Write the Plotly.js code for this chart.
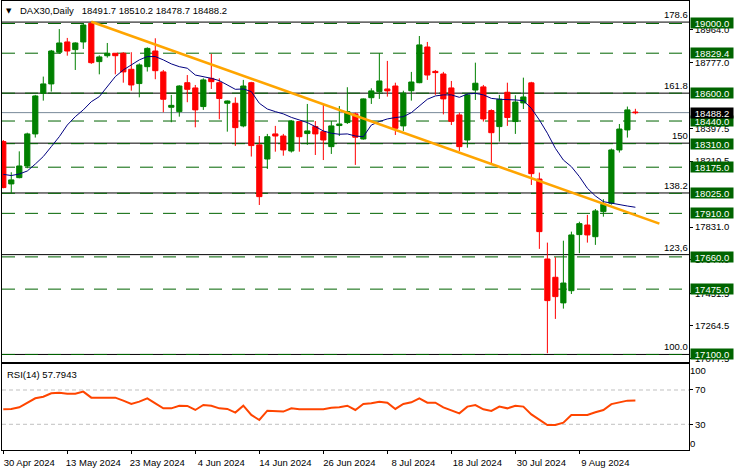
<!DOCTYPE html>
<html>
<head>
<meta charset="utf-8">
<script src="https://cdn.plot.ly/plotly-3.0.1.min.js"></script>
<style>html,body{margin:0;padding:0;background:#fff;}#chart{width:735px;height:470px;}</style>
</head>
<body>
<div id="chart"></div>
<script>
const dates = ['2024-04-30','2024-05-02','2024-05-03','2024-05-06','2024-05-07','2024-05-08','2024-05-09','2024-05-10',
'2024-05-13','2024-05-14','2024-05-15','2024-05-16','2024-05-17','2024-05-20','2024-05-21','2024-05-22',
'2024-05-23','2024-05-24','2024-05-27','2024-05-28','2024-05-29','2024-05-30','2024-05-31','2024-06-03',
'2024-06-04','2024-06-05','2024-06-06','2024-06-07','2024-06-10','2024-06-11','2024-06-12','2024-06-13',
'2024-06-14','2024-06-17','2024-06-18','2024-06-19','2024-06-20','2024-06-21','2024-06-24','2024-06-25',
'2024-06-26','2024-06-27','2024-06-28','2024-07-01','2024-07-02','2024-07-03','2024-07-04','2024-07-05',
'2024-07-08','2024-07-09','2024-07-10','2024-07-11','2024-07-12','2024-07-15','2024-07-16','2024-07-17',
'2024-07-18','2024-07-19','2024-07-22','2024-07-23','2024-07-24','2024-07-25','2024-07-26','2024-07-29',
'2024-07-30','2024-07-31','2024-08-01','2024-08-02','2024-08-05','2024-08-06','2024-08-07','2024-08-08',
'2024-08-09','2024-08-12','2024-08-13','2024-08-14','2024-08-15','2024-08-16','2024-08-19','2024-08-20'];

const opens = [18322,18079,18115,18182,18366,18599,18653,18835,18894,18850,18894,19001,18781,18815,18829,18829,
18737,18655,18752,18842,18722,18519,18494,18660,18630,18523,18685,18660,18542,18542,18412,18660,
18303,18222,18366,18354,18268,18437,18368,18408,18379,18293,18414,18431,18481,18337,18574,18609,
18624,18641,18412,18614,18660,18865,18725,18710,18630,18475,18331,18618,18636,18500,18408,18605,
18437,18544,18659,18107,17648,17543,17396,17466,17788,17843,17776,17920,17968,18274,18389,18491.7];
const highs = [18331,18146,18266,18373,18590,18695,18848,18968,18917,18892,19001,19011,18817,18888,18829,18835,
18835,18771,18863,18915,18733,18590,18645,18704,18647,18685,18825,18685,18558,18576,18676,18665,
18354,18366,18412,18366,18446,18437,18538,18440,18536,18440,18526,18634,18488,18570,18628,18829,
18785,18660,18614,18722,18928,18894,18733,18722,18670,18488,18599,18775,18647,18507,18590,18660,
18588,18689,18665,18144,17742,17658,17753,17805,17862,17901,17935,17991,18282,18423,18523,18510.2];
const lows = [18054,18027,18111,18169,18345,18557,18609,18825,18815,18733,18854,18768,18708,18804,18708,18660,
18614,18576,18724,18680,18490,18433,18465,18548,18404,18504,18624,18450,18379,18297,18404,18236,
17958,18165,18264,18241,18259,18264,18303,18245,18216,18251,18354,18423,18188,18333,18538,18567,
18580,18360,18383,18557,18657,18676,18590,18478,18417,18268,18287,18561,18437,18197,18322,18412,
18366,18509,18073,17706,17107,17304,17363,17447,17681,17742,17729,17891,17960,18259,18345,18478.7];
const closes = [18058,18102,18182,18366,18584,18653,18842,18888,18842,18888,18991,18775,18808,18829,18815,18722,
18647,18762,18857,18729,18565,18530,18641,18622,18504,18676,18666,18569,18555,18402,18641,18299,
18006,18350,18354,18274,18440,18350,18383,18366,18331,18412,18423,18494,18347,18567,18613,18670,
18613,18398,18599,18664,18877,18704,18718,18567,18438,18293,18590,18657,18452,18373,18565,18460,
18549,18578,18138,17805,17409,17432,17510,17786,17851,17786,17924,17962,18274,18394,18504,18488.2];

const maValues = [18134,18127,18136,18153,18193,18236,18293,18350,18417,18465,18504,18551,18580,18637,18695,18733,
18762,18791,18810,18810,18791,18768,18752,18743,18704,18695,18685,18672,18647,18622,18624,18609,
18542,18509,18494,18481,18461,18446,18431,18408,18383,18370,18364,18366,18354,18350,18417,18437,
18452,18460,18465,18488,18526,18565,18584,18590,18590,18576,18595,18599,18590,18570,18565,18565,
18561,18557,18513,18446,18370,18283,18216,18178,18121,18054,18010,17977,17968,17958,17952,17945];

const rsiValues = [47.5,47.9,49.8,55.2,60.3,62.2,66.1,66.9,65.7,65.7,68.1,61.1,61.1,61.1,61.1,57.6,
53.7,56.4,60.3,54.5,48.6,48.6,51.7,51.4,46.7,52.5,51.7,48.6,47.9,43.6,51.7,40.9,
35.0,45.9,45.5,44.8,48.6,47.5,47.5,47.5,47.5,49.4,49.8,51.7,46.7,53.7,54.5,56.4,
55.2,47.9,53.7,55.6,60.3,55.2,55.2,49.8,46.7,42.8,50.6,52.5,47.5,45.5,50.6,48.6,
51.7,50.6,41.6,35.0,29.2,29.2,31.9,40.9,40.9,40.9,44.0,46.7,53.5,55.6,57.6,57.8];

const trendBars = [11, 82];
const trendPrices = [19010, 17851];

const levelPrices = [19000.0, 18829.4, 18600.0, 18440.0, 18310.0, 18175.0, 18025.0, 17910.0, 17660.0, 17475.0, 17100.0];
const fibLabels = ['178.6', '161.8', '150', '138.2', '123,6', '100.0'];
const fibPrices = [19008, 18600, 18313, 18027, 17673, 17100];
const currentPrice = 18488.2;

const priceTicks = [18964.0, 18777.0, 18397.5, 18210.5, 17831.0, 17644.0, 17451.5, 17264.5, 17077.5];
const rsiMidTicks = [70, 30];
const rsiTopTick = 100;
const rsiBottomTick = 0;
const tickDates = ['2024-04-30','2024-05-13','2024-05-23','2024-06-04','2024-06-14','2024-06-26','2024-07-08','2024-07-18','2024-07-30','2024-08-09'];
const tickLabels = ['30 Apr 2024','13 May 2024','23 May 2024','4 Jun 2024','14 Jun 2024','26 Jun 2024','8 Jul 2024','18 Jul 2024','30 Jul 2024','9 Aug 2024'];

const headerText = 'DAX30,Daily\u00a0\u00a0 18491.7 18510.2 18478.7 18488.2';
const rsiText = 'RSI(14) 57.7943';

const bars = dates.map((d, i) => i);
const FONT = 'Liberation Sans, Arial, sans-serif';
const GREEN = '#006400';
const tickFont = {family:FONT, size:9.5, color:'#000000'};

const traces = [
  {type:'candlestick', x:bars, open:opens, high:highs, low:lows, close:closes, xaxis:'x', yaxis:'y',
   increasing:{line:{color:'#008000', width:1}, fillcolor:'#008000'},
   decreasing:{line:{color:'#FF0000', width:1}, fillcolor:'#FF0000'},
   whiskerwidth:0, hoverinfo:'skip', showlegend:false},
  {type:'scatter', mode:'lines', x:bars, y:maValues, xaxis:'x', yaxis:'y',
   line:{color:'#000080', width:1}, hoverinfo:'skip', showlegend:false},
  {type:'scatter', mode:'lines', x:trendBars, y:trendPrices, xaxis:'x', yaxis:'y',
   line:{color:'#FFA500', width:2.6}, hoverinfo:'skip', showlegend:false},
  {type:'scatter', mode:'lines', x:bars, y:rsiValues, xaxis:'x2', yaxis:'y2',
   line:{color:'#FF4500', width:2}, hoverinfo:'skip', showlegend:false},
  // invisible companions so the RSI edge-label axes are drawn
  {type:'scatter', mode:'lines', x:bars, y:rsiValues, xaxis:'x2', yaxis:'y3',
   line:{color:'rgba(0,0,0,0)', width:0}, hoverinfo:'skip', showlegend:false},
  {type:'scatter', mode:'lines', x:bars, y:rsiValues, xaxis:'x2', yaxis:'y4',
   line:{color:'rgba(0,0,0,0)', width:0}, hoverinfo:'skip', showlegend:false}
];

const shapes = [];
fibPrices.forEach(p => shapes.push({type:'line', xref:'paper', x0:0, x1:1, yref:'y', y0:p, y1:p,
  line:{color:'#000000', width:1}, layer:'below'}));
levelPrices.forEach(p => shapes.push({type:'line', xref:'paper', x0:0, x1:1, yref:'y', y0:p, y1:p,
  line:{color:GREEN, width:1, dash:'13px,10px'}, layer:'below'}));
shapes.push({type:'line', xref:'paper', x0:0, x1:1, yref:'y', y0:currentPrice, y1:currentPrice,
  line:{color:'#778899', width:1}, layer:'below'});
rsiMidTicks.forEach(v => shapes.push({type:'line', xref:'paper', x0:0, x1:1, yref:'y2', y0:v, y1:v,
  line:{color:'#C0C0C0', width:1, dash:'4px,3px'}, layer:'below'}));

const annotations = [];
levelPrices.forEach(p => annotations.push({xref:'paper', x:1, xanchor:'left', xshift:1, yref:'y', y:p, yanchor:'middle',
  text:p.toFixed(1), showarrow:false, bgcolor:GREEN, width:42, height:10, borderpad:0,
  font:{family:FONT, size:9.5, color:'#FFFFFF'}}));
annotations.push({xref:'paper', x:1, xanchor:'left', xshift:1, yref:'y', y:currentPrice, yanchor:'middle',
  text:currentPrice.toFixed(1), showarrow:false, bgcolor:'#000000', width:42, height:10, borderpad:0,
  font:{family:FONT, size:9.5, color:'#FFFFFF'}});
fibLabels.forEach((t, k) => annotations.push({xref:'paper', x:1, xanchor:'right', xshift:0, yref:'y', y:fibPrices[k],
  yanchor:'bottom', yshift:1, text:t, showarrow:false, borderpad:0, font:{family:FONT, size:9.5, color:'#000000'}}));
annotations.push({xref:'paper', x:0, xanchor:'left', xshift:3, yref:'paper', y:0.978, yanchor:'middle',
  text:'\u25BC', showarrow:false, borderpad:0, font:{family:'DejaVu Sans', size:7, color:'#000000'}});
annotations.push({xref:'paper', x:0, xanchor:'left', xshift:17, yref:'paper', y:0.978, yanchor:'middle',
  text:headerText, showarrow:false, borderpad:0, font:{family:FONT, size:9.5, color:'#000000'}});
annotations.push({xref:'paper', x:0, xanchor:'left', xshift:4, yref:'paper', y:0.1909, yanchor:'top', yshift:-4,
  text:rsiText, showarrow:false, borderpad:0, font:{family:FONT, size:9.5, color:'#000000'}});

const RSI_DOMAIN = [0, 0.1909];
const layout = {
  width:735, height:470,
  margin:{l:2, r:46, t:1, b:20},
  paper_bgcolor:'#FFFFFF', plot_bgcolor:'#FFFFFF',
  font:{family:FONT, size:9.5, color:'#000000'},
  boxgap:0.35, boxgroupgap:0,
  showlegend:false,
  xaxis:{anchor:'y', domain:[0,1], range:[-0.16, 85.7], showticklabels:false, ticks:'',
    showline:true, mirror:true, linecolor:'#000000', linewidth:1, showgrid:false, zeroline:false,
    rangeslider:{visible:false}, fixedrange:true},
  xaxis2:{anchor:'y2', matches:'x', domain:[0,1], range:[-0.16, 85.7], tickmode:'array',
    tickvals:tickDates.map(d => dates.indexOf(d)), ticktext:tickLabels, ticks:'outside', ticklen:3,
    tickcolor:'#000000', ticklabelshift:26, ticklabelstandoff:1,
    showline:true, mirror:true, linecolor:'#000000', linewidth:1, showgrid:false, zeroline:false,
    tickfont:tickFont},
  yaxis:{anchor:'x', domain:[0.1967, 1], range:[17058.5, 19129], side:'right', tickmode:'array',
    tickvals:priceTicks, ticktext:priceTicks.map(v => v.toFixed(1)), ticks:'outside', ticklen:3,
    tickcolor:'#000000', showline:true, mirror:true, linecolor:'#000000', linewidth:1,
    showgrid:false, zeroline:false, tickfont:tickFont},
  yaxis2:{anchor:'x2', domain:RSI_DOMAIN, range:[0, 100], side:'right', tickmode:'array',
    tickvals:rsiMidTicks, ticktext:rsiMidTicks.map(String), ticks:'outside', ticklen:3, tickcolor:'#000000',
    showline:true, mirror:true, linecolor:'#000000', linewidth:1, showgrid:false, zeroline:false,
    tickfont:tickFont},
  yaxis3:{anchor:'x2', overlaying:'y2', range:[0, 100], side:'right', tickmode:'array',
    tickvals:[rsiTopTick], ticktext:[String(rsiTopTick)], ticks:'', ticklabelposition:'outside bottom',
    showline:false, showgrid:false, zeroline:false, tickfont:tickFont},
  yaxis4:{anchor:'x2', overlaying:'y2', range:[0, 100], side:'right', tickmode:'array',
    tickvals:[rsiBottomTick], ticktext:[String(rsiBottomTick)], ticks:'', ticklabelposition:'outside top',
    showline:false, showgrid:false, zeroline:false, tickfont:tickFont},
  shapes:shapes,
  annotations:annotations
};

Plotly.newPlot('chart', traces, layout, {staticPlot:true, displayModeBar:false});
</script>
</body>
</html>
